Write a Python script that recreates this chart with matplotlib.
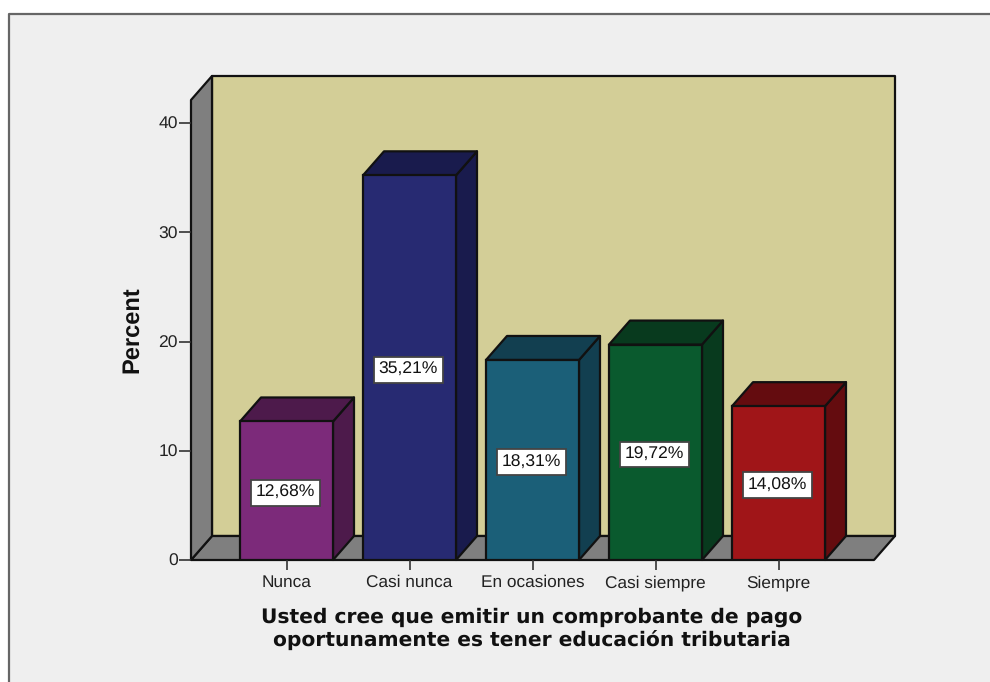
import matplotlib
matplotlib.use("Agg")
from matplotlib import pyplot as plt
from matplotlib.lines import Line2D
from matplotlib.patches import Polygon, Rectangle

plt.rcParams["text.hinting"] = "none"

categories = ["Nunca", "Casi nunca", "En ocasiones", "Casi siempre", "Siempre"]
percent = [12.68, 35.21, 18.31, 19.72, 14.08]
labels = ["12,68%", "35,21%", "18,31%", "19,72%", "14,08%"]
yticks = [0, 10, 20, 30, 40]

front_colors = ["#7C2A7A", "#272A72", "#1B5F78", "#0A5A2E", "#A01518"]
dark_colors = ["#4D1A4B", "#191B4D", "#123F50", "#083A1E", "#640C0F"]

W, H = 990, 682
# depth of the fake 3d box, in data units
DX = 21 / 123
DY = 24 / 10.925
BAR_W = 93 / 123
EDGE = "#111111"

fig = plt.figure(figsize=(W / 100, H / 100), dpi=100, facecolor="white")

# grey panel with the dark border at left and top
fig.add_artist(Rectangle((9 / W, 0), 1, 1 - 14 / H, transform=fig.transFigure,
                         facecolor="#EFEFEF", edgecolor="none", zorder=-2))
fig.add_artist(Line2D([9 / W, 9 / W, 1], [0, 1 - 14 / H, 1 - 14 / H], transform=fig.transFigure,
                      color="#666666", lw=1.6, zorder=-1))

ax = fig.add_axes([191 / W, 1 - 560 / H, (874 - 191) / W, (560 - 100) / H])
ax.patch.set_visible(False)
for s in ax.spines.values():
    s.set_visible(False)

x0, x1 = (191 - 286.5) / 123, (874 - 286.5) / 123
y1 = (560 - 100) / 10.925
ax.set_xlim(x0, x1)
ax.set_ylim(0, y1)


def box(pts, color, z, lw=1.6):
    ax.add_patch(Polygon(pts, closed=True, facecolor=color, edgecolor=EDGE, lw=lw, zorder=z,
                         clip_on=False, joinstyle="round"))


# walls and floor
box([(x0 + DX, DY), (x1 + DX, DY), (x1 + DX, y1 + DY), (x0 + DX, y1 + DY)], "#D3CE97", 1)
box([(x0, 0), (x1, 0), (x1 + DX, DY), (x0 + DX, DY)], "#7F7F7F", 1.5)
box([(x0, 0), (x0 + DX, DY), (x0 + DX, y1 + DY), (x0, y1)], "#7F7F7F", 1.5)

# bars
for i, v in enumerate(percent):
    left, right = i - BAR_W / 2, i + BAR_W / 2
    box([(right, 0), (right + DX, DY), (right + DX, v + DY), (right, v)], dark_colors[i], 3)
    box([(left, v), (right, v), (right + DX, v + DY), (left + DX, v + DY)], dark_colors[i], 3)
    ax.bar(i, v, width=BAR_W, color=front_colors[i], edgecolor=EDGE, lw=1.6, zorder=4)
    ax.annotate(labels[i], (i, v / 2), xytext=(-1, -1.5), textcoords="offset points",
                ha="center", va="center", fontsize=12.6, color="#111111",
                family="Liberation Sans", zorder=6,
                bbox=dict(boxstyle="square,pad=0.28", facecolor="white", edgecolor="#444444", lw=1.3))

ax.set_xticks(range(len(categories)))
ax.set_xticklabels(categories, family="Liberation Sans", fontsize=12.4, color="#222222")
ax.set_yticks(yticks)
ax.set_yticklabels([str(t) for t in yticks], family="Liberation Sans", fontsize=12.6, color="#222222")
ax.tick_params(axis="x", length=7.5, width=1.2, color="#333333", pad=3.2)
ax.tick_params(axis="y", length=8.5, width=1.2, color="#333333", pad=1)

fig.text(132 / W, 1 - 330 / H, "Percent", rotation=90, ha="center", va="center",
         family="Liberation Sans", fontweight="bold", fontsize=17, color="#111111")
fig.text(532 / W, 1 - 628.5 / H, "Usted cree que emitir un comprobante de pago\noportunamente es tener educación tributaria",
         ha="center", va="center", family="DejaVu Sans", fontweight="bold", fontsize=14.6,
         linespacing=1.2, color="#111111")

fig.savefig("out.png", dpi=100, facecolor=fig.get_facecolor())
